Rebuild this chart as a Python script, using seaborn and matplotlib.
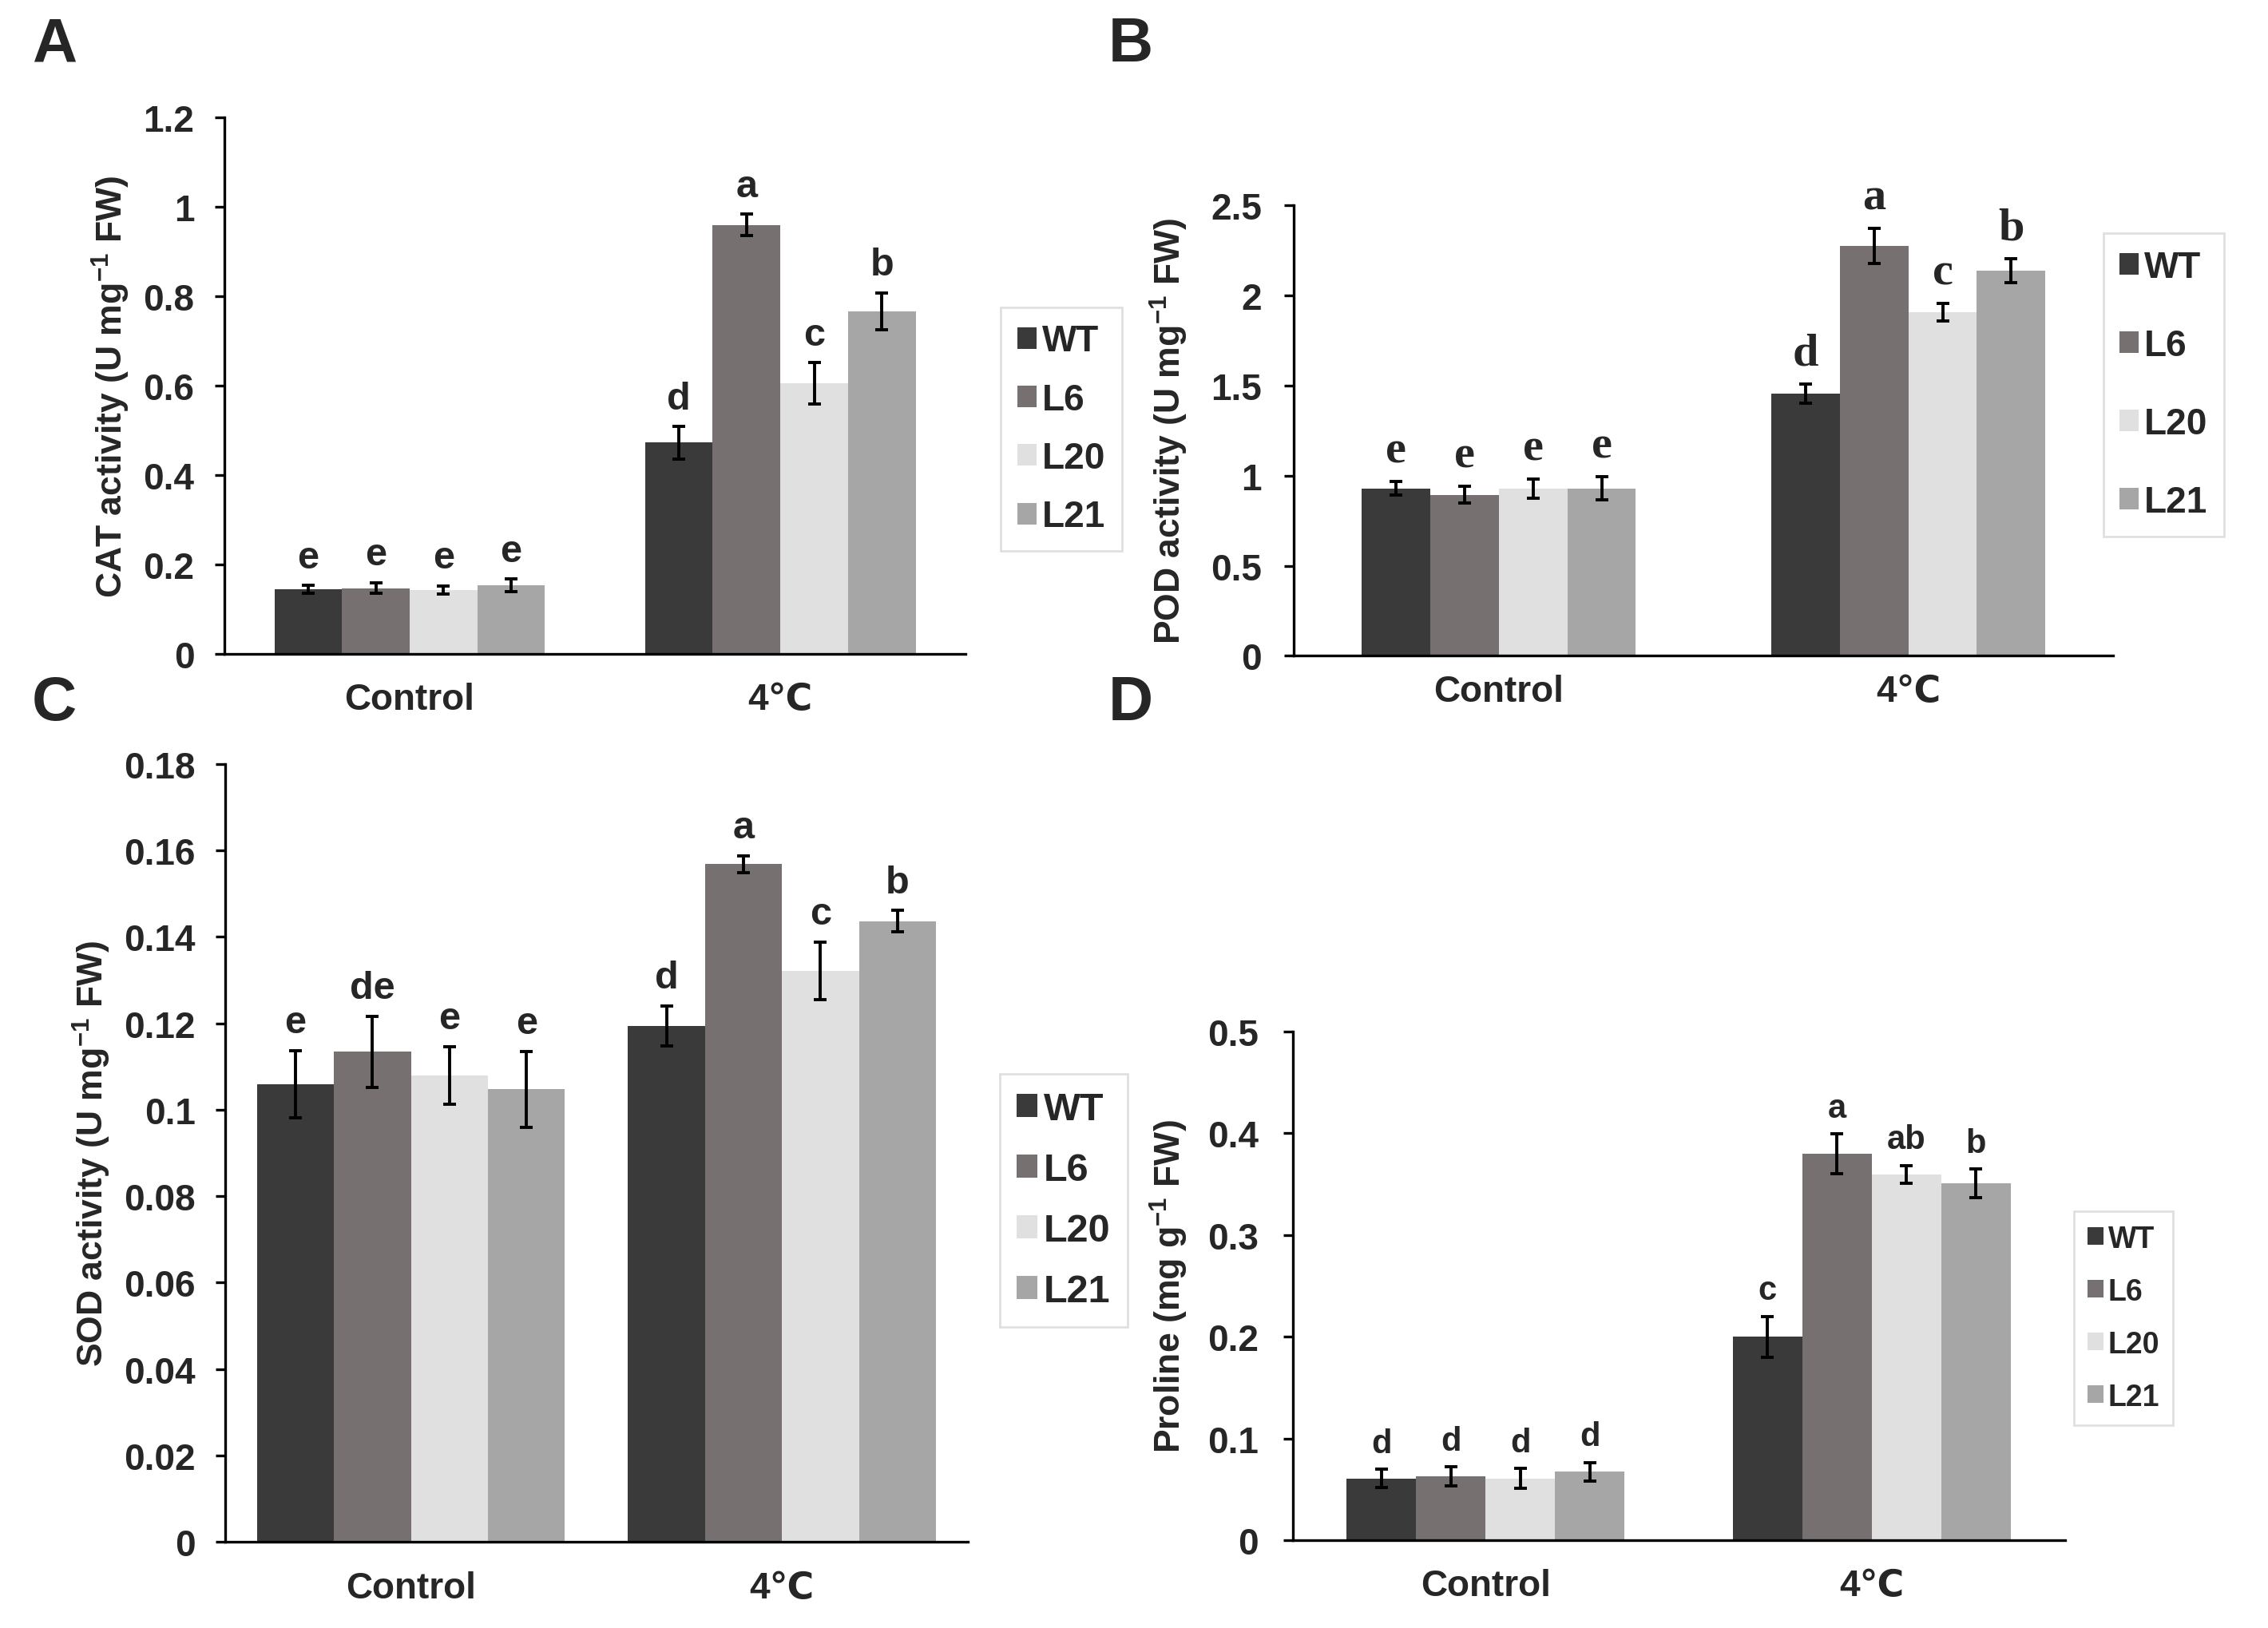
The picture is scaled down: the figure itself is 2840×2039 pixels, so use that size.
import numpy as np
import pandas as pd
import matplotlib
matplotlib.use("Agg")
import matplotlib.pyplot as plt
from matplotlib.ticker import FuncFormatter
import seaborn as sns

# order of every list: Control WT, L6, L20, L21, then 4℃ WT, L6, L20, L21
treatments = ["Control", "4℃"]
lines = ["WT", "L6", "L20", "L21"]
colors = ["#3a3a3a", "#777070", "#e0e0e0", "#a6a6a6"]

cat_mean = [0.145, 0.148, 0.144, 0.154, 0.473, 0.960, 0.606, 0.767]
cat_err = [0.009, 0.012, 0.009, 0.014, 0.036, 0.024, 0.046, 0.041]
cat_sig = ["e", "e", "e", "e", "d", "a", "c", "b"]

pod_mean = [0.929, 0.894, 0.927, 0.929, 1.454, 2.276, 1.909, 2.138]
pod_err = [0.037, 0.045, 0.054, 0.065, 0.053, 0.098, 0.049, 0.065]
pod_sig = ["e", "e", "e", "e", "d", "a", "c", "b"]

sod_mean = [0.1059, 0.1134, 0.1079, 0.1047, 0.1194, 0.1568, 0.1321, 0.1436]
sod_err = [0.0078, 0.0082, 0.0067, 0.0088, 0.0046, 0.0020, 0.0067, 0.0025]
sod_sig = ["e", "de", "e", "e", "d", "a", "c", "b"]

pro_mean = [0.0608, 0.0626, 0.0608, 0.0673, 0.200, 0.3796, 0.3595, 0.3506]
pro_err = [0.009, 0.0095, 0.0095, 0.009, 0.020, 0.0195, 0.0085, 0.014]
pro_sig = ["d", "d", "d", "d", "c", "a", "ab", "b"]

sns.set_style("white")
plt.rcParams['font.family'] = ['Liberation Sans', 'DejaVu Sans']
plt.rcParams['font.weight'] = 'bold'
plt.rcParams['mathtext.fontset'] = 'custom'
plt.rcParams['mathtext.bf'] = 'Liberation Sans:bold'
plt.rcParams['mathtext.rm'] = 'Liberation Sans:bold'
plt.rcParams['mathtext.default'] = 'bf'

fig = plt.figure(figsize=(14.2, 10.2), dpi=200)

panels = [
    dict(tag="A", rect=[0.0989, 0.5978, 0.3269, 0.3296], mean=cat_mean, err=cat_err, sig=cat_sig,
         ylim=1.2, step=0.2, ylabel="CAT activity (U mg$^{-1}$ FW)", width=0.73,
         ypad=9, lpad=5, xpad=12.5,
         leg=(0.4413, 0.8109), legsp=0.64, legfs=16.5, sigfs=17.5, sigfam=None, tagxy=(0.014, 0.990)),
    dict(tag="B", rect=[0.5705, 0.5969, 0.3612, 0.2765], mean=pod_mean, err=pod_err, sig=pod_sig,
         ylim=2.5, step=0.5, ylabel="POD activity (U mg$^{-1}$ FW)", width=0.67,
         ypad=10, lpad=9.5, xpad=8,
         leg=(0.9273, 0.8562), legsp=1.18, legfs=16.5, sigfs=21, sigfam="Liberation Serif", tagxy=(0.4885, 0.990)),
    dict(tag="C", rect=[0.0994, 0.0529, 0.3272, 0.4776], mean=sod_mean, err=sod_err, sig=sod_sig,
         ylim=0.18, step=0.02, ylabel="SOD activity (U mg$^{-1}$ FW)", width=0.83,
         ypad=9, lpad=5, xpad=13,
         leg=(0.4407, 0.3403), legsp=0.64, legfs=17.5, sigfs=17.5, sigfam=None, tagxy=(0.014, 0.586)),
    dict(tag="D", rect=[0.5700, 0.0539, 0.3404, 0.3124], mean=pro_mean, err=pro_err, sig=pro_sig,
         ylim=0.5, step=0.1, ylabel="Proline (mg g$^{-1}$ FW)", width=0.72,
         ypad=11, lpad=8, xpad=12.5,
         leg=(0.9145, 0.2560), legsp=0.8, legfs=13.5, sigfs=15, sigfam=None, tagxy=(0.4885, 0.586)),
]

for p in panels:
    ax = fig.add_axes(p["rect"])
    df = pd.DataFrame({
        "treatment": np.repeat(treatments, len(lines)),
        "line": np.tile(lines, len(treatments)),
        "value": p["mean"],
    })
    sns.barplot(data=df, x="treatment", y="value", hue="line", order=treatments,
                hue_order=lines, palette=colors, saturation=1, errorbar=None,
                width=p["width"], linewidth=0, ax=ax)

    # copy first: errorbar() appends its own containers
    bar_conts = list(ax.containers)
    for i, cont in enumerate(bar_conts):
        for j, bar in enumerate(cont):
            k = j * len(lines) + i
            xc = bar.get_x() + bar.get_width() / 2
            h = bar.get_height()
            ax.errorbar(xc, h, yerr=p["err"][k], fmt="none", ecolor="black",
                        elinewidth=1.4, capsize=3, capthick=1.4)
            kw = dict(fontsize=p["sigfs"], fontweight="bold", ha="center", va="bottom")
            if p["sigfam"]:
                kw["family"] = p["sigfam"]
            ax.annotate(p["sig"][k], (xc, h + p["err"][k]), xytext=(0, 4.5),
                        textcoords="offset points", **kw)

    ax.set_xlim(-0.5, 1.5)
    ax.set_ylim(0, p["ylim"])
    ax.set_yticks(np.round(np.arange(0, p["ylim"] + p["step"] / 2, p["step"]), 4))
    ax.yaxis.set_major_formatter(FuncFormatter(lambda v, pos: f"{v:g}"))
    ax.set_xticks([0, 1])
    ax.set_xticklabels(treatments, fontsize=16.5, fontweight="bold")
    ax.set_xticks([-0.5, 0.5, 1.5], minor=True)
    ax.tick_params(axis="x", which="major", length=0, pad=p["xpad"])
    ax.tick_params(axis="x", which="minor", length=4, width=1.2, direction="out", color="black")
    ax.tick_params(axis="y", length=4.5, width=1.2, direction="out", color="black",
                   labelsize=16.5, left=True, pad=p["ypad"])
    for lab in ax.get_yticklabels():
        lab.set_fontweight("bold")
    ax.set_xlabel("")
    ax.set_ylabel(p["ylabel"], fontsize=16, fontweight="bold", labelpad=p["lpad"])
    sns.despine(ax=ax)
    for s in ["left", "bottom"]:
        ax.spines[s].set_color("black")
        ax.spines[s].set_linewidth(1.2)

    handles, labels = ax.get_legend_handles_labels()
    if ax.legend_ is not None:
        ax.legend_.remove()
    leg = fig.legend(handles, labels, loc="upper left", bbox_to_anchor=p["leg"],
                     borderaxespad=0, frameon=True, fancybox=False, edgecolor="#d8d8d8",
                     handlelength=0.53, handleheight=0.53, handletextpad=0.15,
                     labelspacing=p["legsp"], borderpad=0.45,
                     prop=dict(size=p["legfs"], weight="bold"))
    leg.get_frame().set_linewidth(1.0)

    fig.text(p["tagxy"][0], p["tagxy"][1], p["tag"], fontsize=28, fontweight="bold",
             ha="left", va="top")

fig.savefig("out.png", dpi=200, facecolor="white")
